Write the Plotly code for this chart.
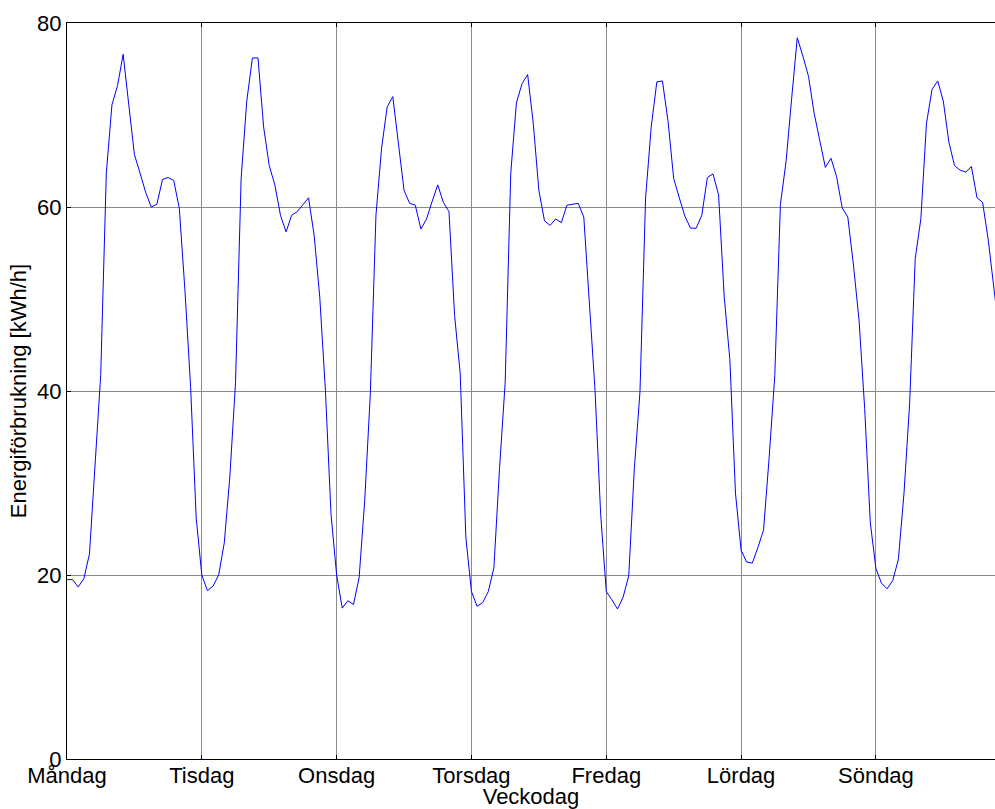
import plotly.graph_objects as go

# Hourly energy use over one week, one list per weekday (kWh/h, hour 0 = midnight)
mandag = [19.5, 19.5, 18.7, 19.6, 22.3, 31.6, 41.7, 63.7, 71.1, 73.2, 76.6, 71.1,
          65.7, 63.7, 61.6, 60.0, 60.3, 63.0, 63.2, 62.9, 59.8, 50.9, 40.5, 26.2]
tisdag = [20.0, 18.3, 18.8, 20.0, 23.5, 30.8, 40.9, 63.1, 71.5, 76.2, 76.2, 68.7,
          64.5, 62.4, 59.1, 57.3, 59.1, 59.5, 60.3, 61.0, 56.9, 50.2, 40.1, 26.6]
onsdag = [20.0, 16.4, 17.2, 16.8, 19.7, 28.1, 39.7, 59.1, 66.4, 70.9, 72.0, 66.8,
          61.8, 60.4, 60.2, 57.6, 58.7, 60.6, 62.4, 60.5, 59.5, 48.2, 41.9, 24.1]
torsdag = [18.2, 16.6, 17.0, 18.2, 20.8, 31.6, 40.9, 63.7, 71.3, 73.4, 74.4, 69.1,
           61.8, 58.5, 58.0, 58.7, 58.3, 60.2, 60.3, 60.4, 58.9, 49.8, 40.1, 26.6]
fredag = [18.2, 17.3, 16.3, 17.6, 19.9, 31.6, 39.9, 61.0, 68.7, 73.6, 73.7, 69.3,
          63.1, 61.0, 59.0, 57.7, 57.7, 59.1, 63.2, 63.6, 61.3, 50.2, 43.4, 28.9]
lordag = [22.7, 21.4, 21.3, 23.0, 24.9, 32.8, 41.7, 60.3, 64.9, 71.8, 78.4, 76.4,
          74.2, 70.2, 67.3, 64.3, 65.3, 63.3, 59.9, 58.9, 53.7, 47.7, 38.1, 25.7]
sondag = [20.7, 19.1, 18.5, 19.4, 21.7, 28.9, 38.6, 54.4, 58.7, 69.1, 72.8, 73.7,
          71.5, 67.0, 64.5, 64.0, 63.8, 64.4, 61.0, 60.5, 56.4, 51.0, 46.0]

day_labels = ["Måndag", "Tisdag", "Onsdag", "Torsdag", "Fredag", "Lördag", "Söndag"]
y_ticks = [0, 20, 40, 60, 80]

energy = mandag + tisdag + onsdag + torsdag + fredag + lordag + sondag
hours = list(range(len(energy)))
day_ticks = [24 * i for i in range(len(day_labels))]

font = dict(family="Liberation Sans, Arial, Helvetica, sans-serif", size=22, color="black")

fig = go.Figure(go.Scatter(
    x=hours, y=energy, mode="lines",
    line=dict(color="#0000ff", width=1),
    hoverinfo="skip",
))

fig.update_layout(
    width=995, height=809,
    margin=dict(l=67, r=0, t=23, b=50),
    paper_bgcolor="white", plot_bgcolor="white",
    font=font,
    showlegend=False,
)

fig.update_xaxes(
    range=[0, 165.2],
    tickmode="array", tickvals=day_ticks, ticktext=day_labels,
    showgrid=True, gridcolor="#8a8a8a", gridwidth=1,
    showline=True, linecolor="black", linewidth=1.3, mirror="ticks",
    ticks="inside", ticklen=4, tickcolor="black",
    zeroline=False,
    title=dict(text="Veckodag", standoff=4, font=font),
    ticklabelstandoff=-4,
)

fig.update_yaxes(
    range=[0, 80],
    tickmode="array", tickvals=y_ticks,
    showgrid=True, gridcolor="#8a8a8a", gridwidth=1,
    showline=True, linecolor="black", linewidth=1.3,
    ticks="inside", ticklen=4, tickcolor="black",
    zeroline=False,
    title=dict(text="Energiförbrukning [kWh/h]", standoff=4, font=font),
)

fig.write_html("out.html")
